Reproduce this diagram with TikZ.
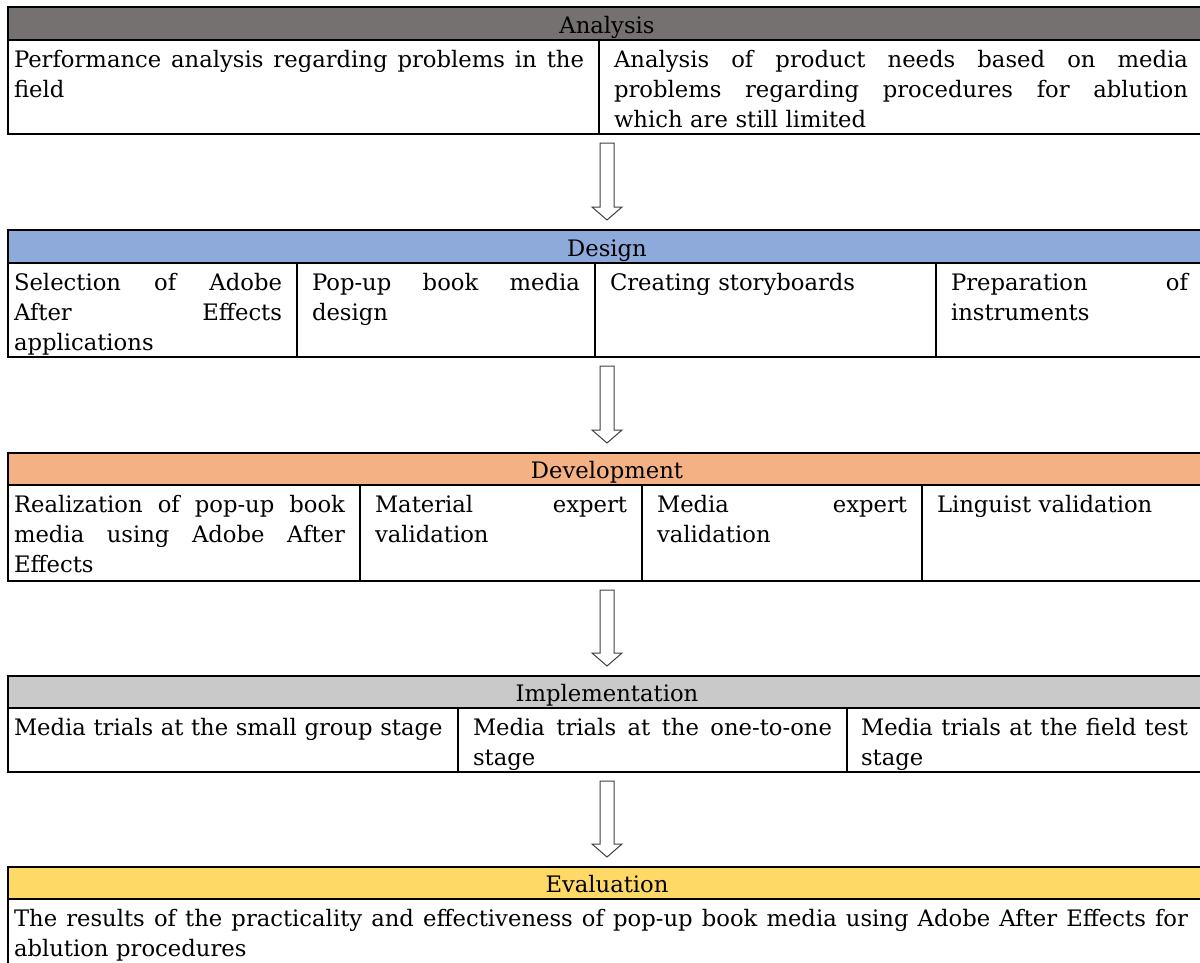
\documentclass[tikz,border=0pt]{standalone}
\usepackage{fontspec}
\setmainfont{DejaVu Serif}
\usetikzlibrary{calc}
\definecolor{anaC}{HTML}{767171}
\definecolor{desC}{HTML}{8EAADB}
\definecolor{devC}{HTML}{F4B183}
\definecolor{impC}{HTML}{C9C9C9}
\definecolor{evaC}{HTML}{FFD966}
\newcommand{\jl}[2]{\makebox[#1][s]{\spaceskip=0pt\xspaceskip=0pt #2}}
\newcommand{\flowarrow}[2]{%
  \draw[blockarrow] let \p1=(#1.south), \p2=(#2.north) in
    (\x1-7pt,\y1-9pt) -- (\x1-7pt,\y2+23pt) -- (\x1-15pt,\y2+23pt) -- (\x1,\y2+10pt)
    -- (\x1+15pt,\y2+23pt) -- (\x1+7pt,\y2+23pt) -- (\x1+7pt,\y1-9pt) -- cycle;}
\begin{document}
\begin{tikzpicture}[x=1pt,y=-1pt,
  tablebox/.style={draw=black, line width=1.6pt, anchor=north west, inner sep=0pt, outer sep=0pt, minimum width=1198pt},
  hdrbox/.style={draw=black, line width=1.6pt, anchor=north west, inner sep=0pt, outer sep=0pt, minimum width=1198pt, minimum height=33pt, text height=23pt, text depth=4pt, font=\fontsize{22.7}{30}\selectfont},
  divider/.style={line width=1.6pt, draw=black},
  celltext/.style={anchor=north west, inner sep=0pt, outer sep=0pt, align=left, font=\fontsize{22.7}{30}\selectfont},
  blockarrow/.style={draw=black!75, line width=1pt, fill=white, line join=miter}]
\clip (0,0) rectangle (1200,962);
\fill[white] (0,0) rectangle (1200,962);

% ---------- Analysis ----------
\node[tablebox, minimum height=127pt] (anaT) at (8,7) {};
\node[hdrbox, fill=anaC] (anaH) at (8,7) {Analysis};
\draw[divider] (599,40) -- (599,134);
\node[celltext, text width=575pt] (a1) at (14,46) {\strut\jl{570pt}{Performance analysis regarding problems in the}\\field};
\node[celltext, text width=578pt] (a2) at (614,46) {\strut\jl{574pt}{Analysis of product needs based on media}\\\jl{574pt}{problems regarding procedures for ablution}\\which are still limited};

% ---------- Design ----------
\node[tablebox, minimum height=127pt] (desT) at (8,230) {};
\node[hdrbox, fill=desC] (desH) at (8,230) {Design};
\draw[divider] (297,263) -- (297,357);
\draw[divider] (595,263) -- (595,357);
\draw[divider] (936,263) -- (936,357);
\node[celltext, text width=272pt] (d1) at (14,269) {\strut\jl{268pt}{Selection of Adobe}\\\jl{268pt}{After Effects}\\applications};
\node[celltext, text width=272pt] (d2) at (312,269) {\strut\jl{268pt}{Pop-up book media}\\design};
\node[celltext, text width=320pt] (d3) at (610,269) {\strut Creating storyboards};
\node[celltext, text width=242pt] (d4) at (951,269) {\strut\jl{237pt}{Preparation of}\\instruments};

% ---------- Development ----------
\node[tablebox, minimum height=128pt] (devT) at (8,453) {};
\node[hdrbox, fill=devC, minimum height=32pt] (devH) at (8,453) {Development};
\draw[divider] (360,485) -- (360,581);
\draw[divider] (642,485) -- (642,581);
\draw[divider] (922,485) -- (922,581);
\node[celltext, text width=335pt] (v1) at (14,491) {\strut\jl{331pt}{Realization of pop-up book}\\\jl{331pt}{media using Adobe After}\\Effects};
\node[celltext, text width=256pt] (v2) at (375,491) {\strut\jl{252pt}{Material expert}\\validation};
\node[celltext, text width=254pt] (v3) at (657,491) {\strut\jl{250pt}{Media expert}\\validation};
\node[celltext, text width=255pt] (v4) at (937,491) {\strut Linguist validation};

% ---------- Implementation ----------
\node[tablebox, minimum height=96pt] (impT) at (8,676) {};
\node[hdrbox, fill=impC, minimum height=32pt] (impH) at (8,676) {Implementation};
\draw[divider] (458,708) -- (458,772);
\draw[divider] (847,708) -- (847,772);
\node[celltext, text width=442pt] (i1) at (14,714) {\strut Media trials at the small group stage};
\node[celltext, text width=363pt] (i2) at (473,714) {\strut\jl{359pt}{Media trials at the one-to-one}\\stage};
\node[celltext, text width=330pt] (i3) at (861,714) {\strut\jl{327pt}{Media trials at the field test}\\stage};

% ---------- Evaluation ----------
\node[tablebox, minimum height=150pt] (evaT) at (8,867) {};
\node[hdrbox, fill=evaC, minimum height=32pt] (evaH) at (8,867) {Evaluation};
\node[celltext, text width=1180pt] (e1) at (14,905) {\strut\jl{1174pt}{The results of the practicality and effectiveness of pop-up book media using Adobe After Effects for}\\ablution procedures};

% ---------- Arrows ----------
\flowarrow{anaT}{desT}
\flowarrow{desT}{devT}
\flowarrow{devT}{impT}
\flowarrow{impT}{evaT}
\end{tikzpicture}
\end{document}
